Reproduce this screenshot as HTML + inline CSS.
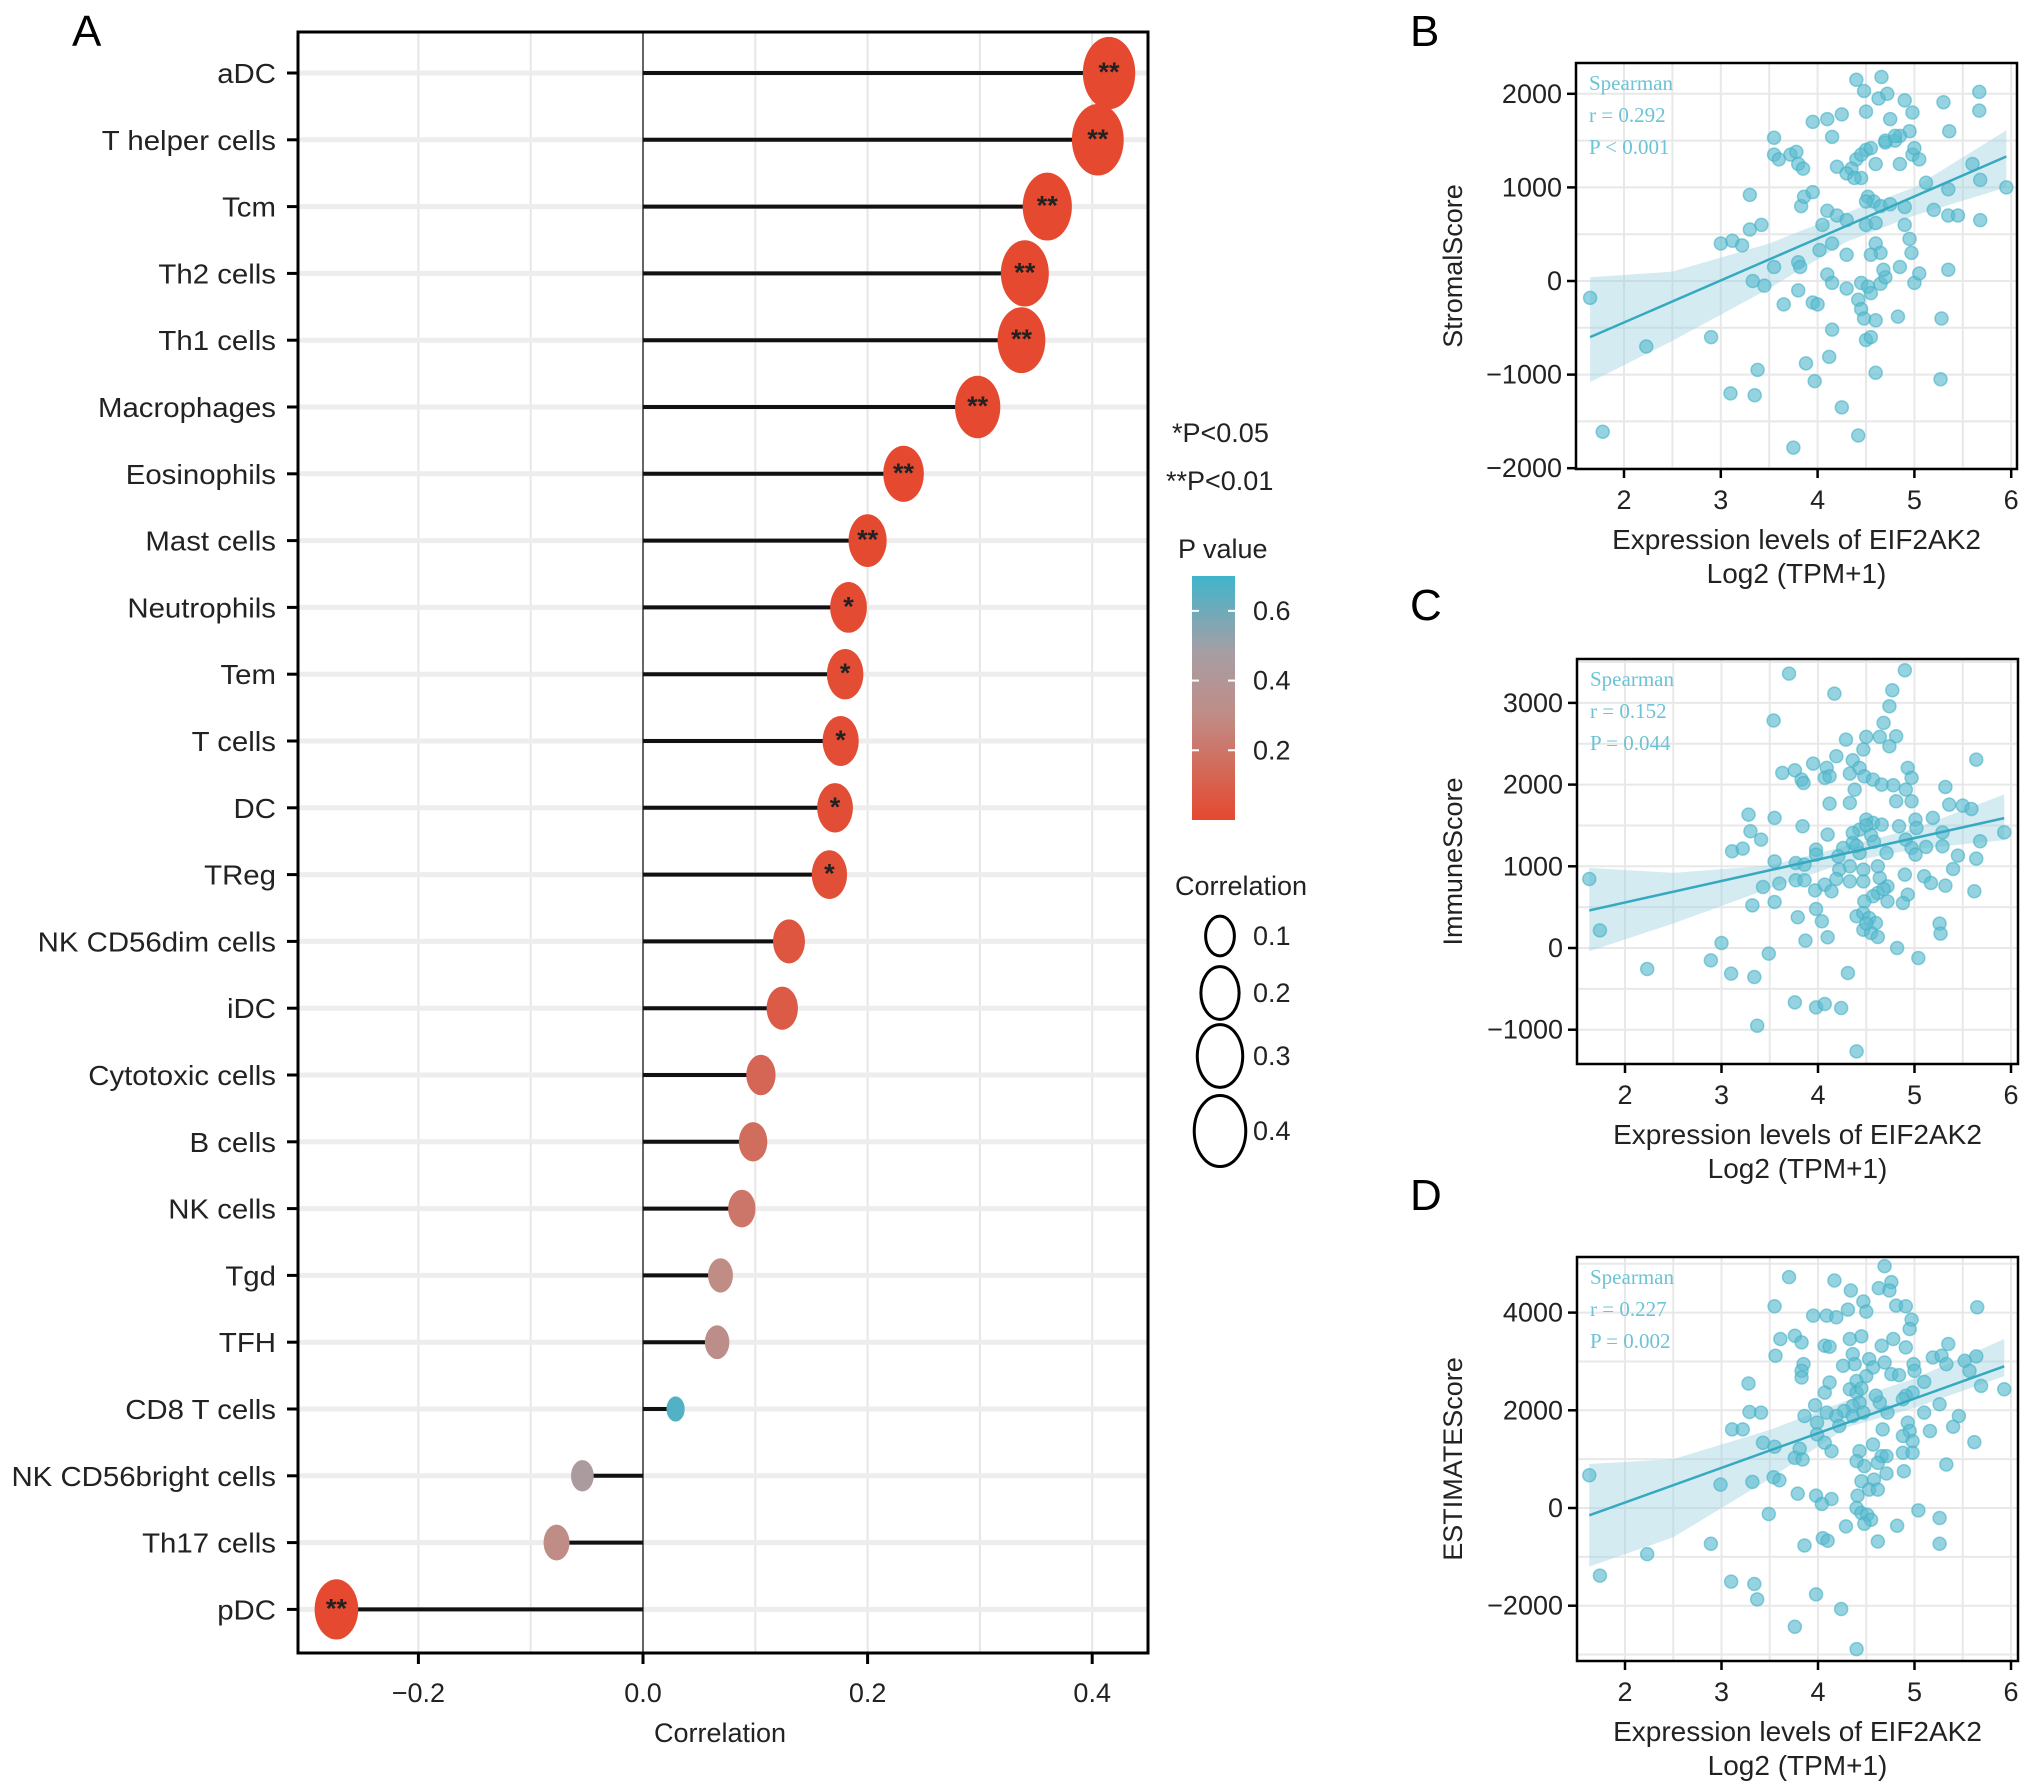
<!DOCTYPE html>
<html><head><meta charset="utf-8"><style>
html,body{margin:0;padding:0;background:#fff;}
svg{display:block;font-family:"Liberation Sans",sans-serif;}
</style></head><body>
<svg id="fig" width="2032" height="1792" viewBox="0 0 2032 1792" xmlns="http://www.w3.org/2000/svg"></svg>
<script>
// ---------- Panel A data ----------
const cellTypes = ["aDC","T helper cells","Tcm","Th2 cells","Th1 cells","Macrophages","Eosinophils","Mast cells","Neutrophils","Tem","T cells","DC","TReg","NK CD56dim cells","iDC","Cytotoxic cells","B cells","NK cells","Tgd","TFH","CD8 T cells","NK CD56bright cells","Th17 cells","pDC"];
const corrValues = [0.415,0.405,0.36,0.34,0.337,0.298,0.232,0.2,0.183,0.18,0.176,0.171,0.166,0.13,0.124,0.105,0.098,0.088,0.069,0.066,0.029,-0.054,-0.077,-0.273];
const pValues = [0.0001,0.0001,0.0001,0.0001,0.0001,0.0001,0.001,0.005,0.015,0.017,0.02,0.022,0.026,0.06,0.08,0.13,0.16,0.2,0.3,0.32,0.66,0.45,0.3,0.0002];
const sigMarks = ["**","**","**","**","**","**","**","**","*","*","*","*","*","","","","","","","","","","","**"];
const corrTicks = [-0.2,0.0,0.2,0.4];
const corrTickLabels = ["\u22120.2","0.0","0.2","0.4"];
const pTicks = [0.2,0.4,0.6];
const sizeLegend = [0.1,0.2,0.3,0.4];

// ---------- Scatter data (x = log2 TPM+1, y = score) ----------
const stromalPts = [[1.65,-180],[1.78,-1610],[2.23,-700],[2.9,-600],[3.0,400],[3.12,430],[3.22,380],[3.3,920],[3.3,550],[3.42,600],[3.33,0],[3.45,-50],[3.55,150],[3.55,1530],[3.55,1350],[3.6,1300],[3.65,-250],[3.72,1350],[3.78,1380],[3.8,1250],[3.85,1200],[3.83,800],[3.86,900],[3.95,950],[3.8,200],[3.82,150],[3.8,-100],[3.38,-950],[3.1,-1200],[3.35,-1220],[3.88,-880],[3.97,-1070],[3.75,-1780],[3.95,-230],[4.0,-250],[3.95,1700],[4.1,1730],[4.25,1780],[4.4,2150],[4.48,2030],[4.66,2180],[4.63,1950],[4.72,2000],[4.5,1810],[4.75,1730],[4.9,1930],[4.98,1800],[4.95,1600],[5.3,1910],[5.36,1600],[5.67,2020],[5.67,1820],[5.6,1250],[5.68,1080],[5.95,1000],[5.68,650],[5.2,760],[5.35,700],[5.45,700],[5.35,980],[5.12,1050],[4.98,1350],[5.05,1300],[4.8,1500],[4.85,1550],[4.7,1480],[4.5,1400],[4.4,1300],[4.35,1200],[4.2,1220],[4.15,1540],[4.3,1150],[4.45,1100],[4.6,1250],[4.85,1250],[4.52,900],[4.58,850],[4.65,800],[4.75,820],[4.9,790],[4.1,750],[4.2,700],[4.3,650],[4.5,600],[4.6,620],[4.05,600],[4.15,400],[4.02,330],[4.6,400],[4.65,300],[4.9,600],[4.95,450],[4.97,300],[4.1,70],[4.15,-20],[4.3,-80],[4.45,-20],[4.52,-60],[4.55,-130],[4.65,-30],[4.7,40],[4.55,280],[4.68,120],[4.85,150],[5.0,-20],[5.05,80],[5.35,120],[4.42,-200],[4.45,-300],[4.48,-400],[4.6,-420],[4.83,-380],[5.28,-400],[4.5,-630],[4.55,-600],[4.15,-520],[4.12,-810],[4.6,-980],[5.27,-1050],[4.25,-1350],[4.42,-1650],[4.3,280],[4.45,1350],[4.55,1420],[4.38,1100],[4.7,1500],[5.0,1420],[4.5,850],[4.8,1550]];
const immunePts = [[1.63,845],[1.74,216],[2.23,-257],[3.0,61],[2.89,-151],[3.1,-314],[3.34,-355],[3.37,-951],[3.49,-69],[3.32,522],[3.55,563],[3.43,747],[3.6,788],[3.55,1061],[3.11,1184],[3.22,1216],[3.3,1429],[3.41,1327],[3.28,1633],[3.55,1592],[3.84,1490],[3.77,1041],[3.86,1020],[3.77,829],[3.86,829],[3.79,376],[3.87,90],[3.76,-665],[3.98,-727],[4.07,-686],[4.24,-735],[4.31,-306],[4.4,-1265],[3.54,2784],[3.7,3359],[4.17,3114],[4.9,3400],[4.77,3155],[4.74,2959],[4.68,2755],[4.29,2551],[4.5,2584],[4.64,2584],[4.81,2592],[4.74,2469],[4.47,2429],[4.19,2347],[3.95,2257],[4.36,2298],[3.63,2143],[3.76,2176],[3.83,2061],[3.85,2020],[4.09,2204],[4.07,2082],[4.12,2102],[4.33,2135],[4.43,2204],[4.48,2102],[4.57,2061],[4.66,2000],[4.78,1992],[4.93,2204],[4.97,2082],[4.91,1939],[4.97,1796],[4.81,1796],[4.38,1939],[4.33,1776],[4.12,1767],[5.32,1971],[5.36,1755],[5.5,1743],[5.59,1702],[5.64,2306],[5.19,1592],[4.5,1571],[4.57,1531],[4.43,1449],[4.36,1408],[4.66,1510],[4.84,1490],[5.01,1571],[5.02,1469],[5.29,1416],[5.93,1416],[5.68,1306],[5.12,1237],[5.29,1245],[5.45,1131],[5.64,1094],[5.4,967],[4.91,1327],[4.97,1224],[5.01,1143],[4.71,1163],[4.36,1286],[4.26,1224],[4.21,1122],[4.1,1388],[3.98,1204],[3.98,1143],[4.43,1163],[4.47,959],[4.33,1000],[4.22,959],[4.19,845],[4.33,816],[4.47,816],[4.64,857],[4.72,755],[4.62,673],[4.72,571],[4.9,898],[5.1,878],[5.17,796],[5.32,763],[5.62,694],[4.93,653],[4.88,551],[4.57,633],[4.48,571],[3.97,706],[4.07,776],[4.14,694],[3.98,478],[4.04,327],[4.1,131],[4.4,388],[4.47,429],[4.53,367],[4.6,306],[4.47,224],[4.55,184],[4.62,135],[4.82,0],[5.04,-122],[5.26,298],[5.27,176],[4.5,1500],[4.55,1380],[4.4,1250],[4.58,1300],[4.62,1000],[4.68,720],[4.5,300]];
const estimatePts = [[1.63,671],[1.74,-1384],[2.23,-945],[2.89,-733],[2.99,479],[3.1,-1507],[3.34,-1555],[3.37,-1870],[3.49,-123],[3.32,534],[3.54,630],[3.6,568],[3.28,2548],[3.11,1610],[3.22,1610],[3.29,1966],[3.41,1952],[3.43,1336],[3.55,1253],[3.55,4130],[3.7,4726],[3.61,3459],[3.76,3527],[3.83,3390],[3.56,3116],[3.85,2945],[3.83,2808],[3.83,2671],[3.95,3938],[4.09,3938],[4.19,3904],[4.17,4658],[4.34,4452],[4.31,4062],[4.47,4226],[4.5,4021],[4.69,4952],[4.63,4500],[4.76,4623],[4.74,4452],[4.81,4144],[4.91,4130],[4.97,3856],[4.95,3664],[5.65,4110],[4.07,3322],[4.12,3301],[4.33,3459],[4.45,3514],[4.36,3151],[4.38,2945],[4.26,2911],[4.53,3048],[4.66,3322],[4.78,3459],[4.91,3288],[4.57,2877],[4.69,2979],[4.76,2740],[4.84,2719],[4.99,2945],[5.0,2808],[5.1,2582],[5.19,3082],[5.28,3116],[5.35,3356],[5.33,2945],[5.52,3014],[5.64,3103],[5.57,2808],[5.69,2500],[5.93,2432],[5.26,2123],[5.46,1884],[5.4,1664],[5.62,1349],[5.33,890],[5.16,1575],[5.1,1952],[4.98,2363],[4.91,2295],[4.88,2226],[4.33,2432],[4.4,2363],[4.43,2158],[4.36,2089],[4.27,1986],[4.36,1884],[4.47,1952],[4.64,2158],[4.72,1952],[4.67,1610],[4.57,1301],[4.66,1062],[4.71,1062],[4.62,925],[4.71,705],[4.89,753],[4.93,1747],[4.95,1575],[4.98,1370],[4.88,1473],[4.88,1130],[4.98,1130],[4.12,2568],[4.07,2363],[3.97,2103],[3.86,1884],[4.09,1952],[4.19,1884],[4.22,1678],[3.99,1747],[3.99,1507],[4.07,1336],[4.14,1164],[3.81,1212],[3.76,1027],[3.84,993],[4.43,1164],[4.4,959],[4.48,856],[4.45,548],[4.58,582],[4.53,377],[4.62,377],[4.41,253],[3.79,295],[3.98,253],[4.14,185],[4.04,82],[4.4,0],[4.45,-103],[4.51,-137],[4.55,-240],[4.48,-322],[4.29,-377],[4.82,-363],[5.04,-48],[5.26,-205],[5.26,-733],[4.62,-685],[3.86,-767],[4.05,-616],[4.1,-671],[3.98,-1767],[4.24,-2068],[3.76,-2432],[4.4,-2890],[4.4,2600],[4.5,2700],[4.45,2450],[4.6,2300]];
// regression fit endpoints and confidence band (x, upper, lower)
const stromalFit = [[1.65,-600],[5.95,1330]];
const stromalBandX = [1.65,2.5,3.5,4.3,5.0,5.95];
const stromalBandHi = [40,100,400,730,1000,1610];
const stromalBandLo = [-1080,-640,-80,420,700,1000];
const immuneFit = [[1.63,460],[5.93,1590]];
const immuneBandX = [1.63,2.5,3.5,4.3,5.0,5.93];
const immuneBandHi = [980,920,1010,1250,1460,1880];
const immuneBandLo = [-40,300,730,1050,1210,1320];
const estFit = [[1.63,-150],[5.93,2900]];
const estBandX = [1.63,2.5,3.5,4.3,5.0,5.93];
const estBandHi = [900,1000,1600,2200,2650,3460];
const estBandLo = [-1200,-600,600,1650,2050,2700];
const xTicks = [2,3,4,5,6];

const NS = "http://www.w3.org/2000/svg";
const svg = document.getElementById("fig");
function el(tag, attrs, parent){ const e=document.createElementNS(NS,tag); for(const k in attrs) e.setAttribute(k,attrs[k]); (parent||svg).appendChild(e); return e; }
function txt(s, attrs, parent){ const e=el("text",attrs,parent); e.textContent=s; return e; }

// ================= Panel A =================
const A = {L:298,R:1148,T:32,B:1653};
const xA = v => 643 + v*1123;
const yA = i => 73 + i*66.8;
function lerp(a,b,t){return a+(b-a)*t;}
function hex(c){return [parseInt(c.substr(1,2),16),parseInt(c.substr(3,2),16),parseInt(c.substr(5,2),16)];}
const cStops=[[0,"#e5492f"],[0.3,"#c08c86"],[0.48,"#a79ea4"],[0.7,"#3fb5cb"]];
function pColor(p){ p=Math.max(0,Math.min(0.7,p)); for(let i=0;i<cStops.length-1;i++){ if(p<=cStops[i+1][0]){ const t=(p-cStops[i][0])/(cStops[i+1][0]-cStops[i][0]); const a=hex(cStops[i][1]),b=hex(cStops[i+1][1]); return `rgb(${Math.round(lerp(a[0],b[0],t))},${Math.round(lerp(a[1],b[1],t))},${Math.round(lerp(a[2],b[2],t))})`; } } return cStops[cStops.length-1][1]; }
const rxOf = r => 3 + 36*Math.sqrt(Math.abs(r));

const gA = el("g",{});
txt("A",{x:72,y:46,"font-size":44,fill:"#000"},gA);
const gridA = el("g",{},gA);
[-0.2,-0.1,0.1,0.2,0.3,0.4].forEach(v=>{ el("line",{x1:xA(v),x2:xA(v),y1:A.T,y2:A.B,stroke:"#e6e6e6","stroke-width":2},gridA); });
cellTypes.forEach((c,i)=>{ el("line",{x1:A.L,x2:A.R,y1:yA(i),y2:yA(i),stroke:"#ededed","stroke-width":5},gridA); });
el("line",{x1:xA(0),x2:xA(0),y1:A.T,y2:A.B,stroke:"#333","stroke-width":1.5},gA);
const gL = el("g",{},gA);
cellTypes.forEach((c,i)=>{
  const y=yA(i), r=corrValues[i];
  const stem=el("line",{x1:xA(0),x2:xA(r),y1:y,y2:y,stroke:"#111","stroke-width":4},gL);
  
  
  const rx=rxOf(r);
  const dot=el("ellipse",{cx:xA(r),cy:y,rx:rx,ry:rx*1.38,fill:pColor(pValues[i])},gL);
  
  
  if(sigMarks[i]){ const s=txt(sigMarks[i],{x:xA(r),y:y+8,"font-size":27,"text-anchor":"middle",fill:"#222","font-weight":"bold"},gL);
    
     }
  const lab=txt(c,{x:276,y:y+10,"font-size":28,"text-anchor":"end",fill:"#222",transform:`translate(276 0) scale(1.05 1) translate(-276 0)`},gA);
  
  
  el("line",{x1:287,x2:298,y1:y,y2:y,stroke:"#000","stroke-width":3},gA);
});
el("rect",{x:A.L,y:A.T,width:A.R-A.L,height:A.B-A.T,fill:"none",stroke:"#000","stroke-width":3,},gA);
corrTicks.forEach((v,i)=>{ el("line",{x1:xA(v),x2:xA(v),y1:A.B,y2:A.B+11,stroke:"#000","stroke-width":3},gA);
  const t=txt(corrTickLabels[i],{x:xA(v),y:1702,"font-size":27,"text-anchor":"middle",fill:"#222"},gA);
  
   });
txt("Correlation",{x:720,y:1742,"font-size":27,"text-anchor":"middle",fill:"#222",},gA);

// legends
const gLeg = el("g",{});
txt("*P<0.05",{x:1172,y:442,"font-size":27,fill:"#222",},gLeg);
txt("**P<0.01",{x:1166,y:490,"font-size":27,fill:"#222",},gLeg);
txt("P value",{x:1178,y:558,"font-size":27,fill:"#222",},gLeg);
const defs=el("defs",{});
const lg=el("linearGradient",{id:"pg",x1:0,y1:1,x2:0,y2:0},defs);
cStops.forEach(s=>el("stop",{offset:(s[0]/0.7),"stop-color":s[1]},lg));
const cbTop=576, cbBot=820, pToY = p => cbBot - (p/0.7)*(cbBot-cbTop);
el("rect",{x:1192,y:cbTop,width:43,height:cbBot-cbTop,fill:"url(#pg)",},gLeg);
pTicks.forEach(p=>{ el("line",{x1:1192,x2:1199,y1:pToY(p),y2:pToY(p),stroke:"#fff","stroke-width":2},gLeg); el("line",{x1:1228,x2:1235,y1:pToY(p),y2:pToY(p),stroke:"#fff","stroke-width":2},gLeg);
  const t=txt(p.toFixed(1),{x:1253,y:pToY(p)+9,"font-size":27,fill:"#222"},gLeg);
  
   });
txt("Correlation",{x:1175,y:895,"font-size":27,fill:"#222",},gLeg);
const sizeY=[936,993,1056,1131];
sizeLegend.forEach((v,i)=>{ const rx=rxOf(v);
  const e=el("ellipse",{cx:1220,cy:sizeY[i],rx:rx,ry:rx*1.38,fill:"none",stroke:"#000","stroke-width":3},gLeg);
  
  
  const t=txt(v.toFixed(1),{x:1253,y:sizeY[i]+9,"font-size":27,fill:"#222"},gLeg);
  
   });

// ================= Scatter panels =================
function scatter(cfg){
  const g=el("g",{});
  const X=v=>cfg.x2+(v-2)*cfg.ux, Y=v=>cfg.y0-v*cfg.uy;
  txt(cfg.letter,{x:1410,y:cfg.letterY,"font-size":44,fill:"#000"},g);
  for(let v=1.5; v<=6.01; v+=0.5){ if(X(v)>cfg.L && X(v)<cfg.R) el("line",{x1:X(v),x2:X(v),y1:cfg.T,y2:cfg.B,stroke:"#e8e8e8","stroke-width":2},g); }
  for(let v=cfg.yMin; v<=cfg.yMax; v+=cfg.yStep/2){ if(Y(v)>cfg.T && Y(v)<cfg.B) el("line",{x1:cfg.L,x2:cfg.R,y1:Y(v),y2:Y(v),stroke:"#e8e8e8","stroke-width":2},g); }
  let d="M"+cfg.bandX.map((x,i)=>X(x)+","+Y(cfg.bandHi[i])).join(" L");
  d+=" L"+cfg.bandX.slice().reverse().map((x,i)=>X(x)+","+Y(cfg.bandLo[cfg.bandX.length-1-i])).join(" L")+" Z";
  el("path",{d:d,fill:"#9fd3e0","fill-opacity":0.45,},g);
  cfg.pts.forEach(p=>{ const c=el("circle",{cx:X(p[0]),cy:Y(p[1]),r:6.5,fill:"#5cbcd0","fill-opacity":0.65,stroke:"#45b0c7","stroke-opacity":0.6,"stroke-width":1.5},g);
    
     });
  el("line",{x1:X(cfg.fit[0][0]),y1:Y(cfg.fit[0][1]),x2:X(cfg.fit[1][0]),y2:Y(cfg.fit[1][1]),stroke:"#36a9c0","stroke-width":2.5,},g);
  el("rect",{x:cfg.L,y:cfg.T,width:cfg.R-cfg.L,height:cfg.B-cfg.T,fill:"none",stroke:"#000","stroke-width":2.5},g);
  const ann=["Spearman",cfg.r,cfg.p];
  ann.forEach((s,i)=>{ const t=txt(s,{x:cfg.L+13,y:cfg.T+27+i*32,"font-size":21,"font-family":"Liberation Serif, serif",fill:"#6cc3d6"},g);
    
     });
  xTicks.forEach(v=>{ el("line",{x1:X(v),x2:X(v),y1:cfg.B,y2:cfg.B+9,stroke:"#000","stroke-width":2.5},g);
    const t=txt(String(v),{x:X(v),y:cfg.B+40,"font-size":27,"text-anchor":"middle",fill:"#222"},g);
    
     });
  cfg.yTicks.forEach(v=>{ el("line",{x1:cfg.L-9,x2:cfg.L,y1:Y(v),y2:Y(v),stroke:"#000","stroke-width":2.5},g);
    const t=txt(v<0?"\u2212"+Math.abs(v):String(v),{x:cfg.L-14,y:Y(v)+9,"font-size":27,"text-anchor":"end",fill:"#222"},g);
    
     });
  txt("Expression levels of EIF2AK2",{x:(cfg.L+cfg.R)/2,y:cfg.B+80,"font-size":28,"text-anchor":"middle",fill:"#222",},g);
  txt("Log2 (TPM+1)",{x:(cfg.L+cfg.R)/2,y:cfg.B+114,"font-size":28,"text-anchor":"middle",fill:"#222",},g);
  const cy=(cfg.T+cfg.B)/2;
  txt(cfg.ytitle,{x:1462,y:cy,"font-size":27,"text-anchor":"middle",fill:"#222",transform:`rotate(-90 1462 ${cy})`,},g);
}
scatter({name:"panel-b",letter:"B",letterY:46,L:1576,R:2017,T:63,B:469,x2:1624,ux:96.8,y0:281,uy:0.0936,yMin:-2000,yMax:2500,yStep:1000,yTicks:[2000,1000,0,-1000,-2000],pts:stromalPts,fit:stromalFit,bandX:stromalBandX,bandHi:stromalBandHi,bandLo:stromalBandLo,r:"r = 0.292",p:"P < 0.001",ytitle:"StromalScore"});
scatter({name:"panel-c",letter:"C",letterY:620,L:1577,R:2018,T:659,B:1064,x2:1625,ux:96.5,y0:948,uy:0.0817,yMin:-1500,yMax:3500,yStep:1000,yTicks:[3000,2000,1000,0,-1000],pts:immunePts,fit:immuneFit,bandX:immuneBandX,bandHi:immuneBandHi,bandLo:immuneBandLo,r:"r = 0.152",p:"P = 0.044",ytitle:"ImmuneScore"});
scatter({name:"panel-d",letter:"D",letterY:1210,L:1577,R:2018,T:1257,B:1661,x2:1625,ux:96.5,y0:1508,uy:0.04885,yMin:-3000,yMax:5000,yStep:2000,yTicks:[4000,2000,0,-2000],pts:estimatePts,fit:estFit,bandX:estBandX,bandHi:estBandHi,bandLo:estBandLo,r:"r = 0.227",p:"P = 0.002",ytitle:"ESTIMATEScore"});
</script>
</body></html>
